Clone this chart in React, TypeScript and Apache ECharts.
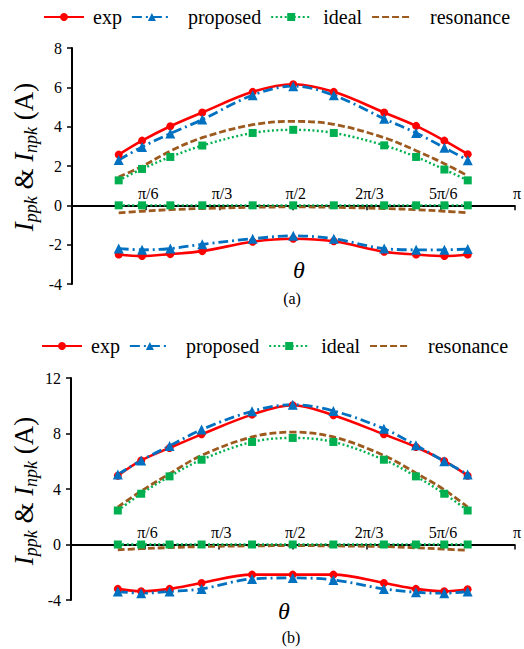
import { useEffect, useRef } from "react";
import * as echarts from "echarts";

// Sample angles (degrees) shared by both panels
const theta = [19, 28.5, 40, 53, 73.5, 90, 106.5, 127, 140, 151.5, 161];

// x-axis tick labels (degrees -> multiples of π)
const thetaTickLabels: Record<number, string> = {
  30: "π/6",
  60: "π/3",
  90: "π/2",
  120: "2π/3",
  150: "5π/6",
  180: "π",
};

const seriesNames = ["exp", "proposed", "ideal", "resonance"];

// Panel (a)
const expPosA = [2.58, 3.29, 4.02, 4.72, 5.77, 6.16, 5.77, 4.72, 4.04, 3.29, 2.6];
const expNegA = [-2.5, -2.58, -2.48, -2.33, -1.85, -1.7, -1.83, -2.36, -2.5, -2.58, -2.5];
const propPosA = [2.3, 2.97, 3.65, 4.36, 5.6, 6.06, 5.6, 4.4, 3.68, 2.93, 2.29];
const propNegA = [-2.2, -2.26, -2.2, -1.98, -1.7, -1.55, -1.7, -2.2, -2.26, -2.26, -2.22];
const idealPosA = [1.27, 1.85, 2.46, 3.04, 3.68, 3.84, 3.68, 3.05, 2.46, 1.82, 1.27];
const idealNegA = [0, 0, 0, 0, 0, 0, 0, 0, 0, 0, 0];
const resPosA = [1.44, 1.98, 2.76, 3.44, 4.1, 4.27, 4.12, 3.44, 2.78, 2.12, 1.5];
const resNegA = [-0.38, -0.3, -0.22, -0.16, -0.1, -0.08, -0.1, -0.16, -0.22, -0.3, -0.38];

// Panel (b)
const expPosB = [4.96, 6.06, 6.96, 7.94, 9.36, 10.04, 9.31, 7.94, 7.03, 6.02, 4.96];
const expNegB = [-3.2, -3.37, -3.2, -2.77, -2.17, -2.17, -2.17, -2.77, -3.2, -3.37, -3.22];
const propPosB = [5.05, 6.06, 7.1, 8.28, 9.6, 10.08, 9.63, 8.35, 7.15, 6.0, 5.05];
const propNegB = [-3.39, -3.51, -3.39, -3.2, -2.48, -2.41, -2.55, -3.2, -3.44, -3.51, -3.39];
const idealPosB = [2.45, 3.66, 4.91, 6.11, 7.39, 7.68, 7.39, 6.11, 4.91, 3.66, 2.45];
const idealNegB = [0, 0, 0, 0, 0, 0, 0, 0, 0, 0, 0];
const resPosB = [2.7, 3.85, 5.1, 6.42, 7.75, 8.1, 7.75, 6.42, 5.15, 3.95, 2.7];
const resNegB = [-0.38, -0.3, -0.22, -0.15, -0.1, -0.08, -0.1, -0.15, -0.24, -0.33, -0.42];

// y-axis ranges
const yRangeA = { min: -4, max: 8, interval: 2 };
const yRangeB = { min: -4, max: 12, interval: 4 };

const FONT = "Liberation Serif";

const gridA = { left: 72, top: 48, width: 451, height: 236 };
const gridB = { left: 71, top: 378, width: 446, height: 222 };

const styles: Record<string, any> = {
  exp: {
    color: "#FF0000",
    symbol: "circle",
    symbolSize: 8,
    lineStyle: { width: 2.6, type: "solid" },
  },
  proposed: {
    color: "#0070C0",
    symbol: "triangle",
    symbolSize: 10,
    lineStyle: { width: 2.8, type: [10, 4, 2, 4] },
  },
  ideal: {
    color: "#00B050",
    symbol: "rect",
    symbolSize: 8,
    lineStyle: { width: 2.4, type: [2, 2.5] },
  },
  resonance: {
    color: "#9C5A1E",
    symbol: "none",
    symbolSize: 0,
    lineStyle: { width: 2.8, type: [7, 3] },
  },
};

function makeSeries(name: string, values: number[], axisIndex: number) {
  const s = styles[name];
  return {
    name,
    type: "line",
    xAxisIndex: axisIndex,
    yAxisIndex: axisIndex,
    data: theta.map((t, i) => [t, values[i]]),
    smooth: 0.35,
    symbol: s.symbol,
    symbolSize: s.symbolSize,
    showSymbol: s.symbol !== "none",
    itemStyle: { color: s.color },
    lineStyle: { color: s.color, ...s.lineStyle },
    emphasis: { disabled: true },
  };
}

// The θ axis sits on the value-zero line of its grid
function makeXAxis(gridIndex: number, grid: { height: number }, range: { min: number; max: number }) {
  const zeroOffset = ((0 - range.min) / (range.max - range.min)) * grid.height;
  return {
    type: "value",
    gridIndex,
    position: "bottom",
    offset: -zeroOffset,
    min: 0,
    max: 180,
    interval: 30,
    axisLine: { show: true, onZero: false, lineStyle: { color: "#000", width: 2 } },
    axisTick: { show: true, inside: false, length: 5, lineStyle: { color: "#000", width: 1.5 } },
    axisLabel: {
      inside: true,
      margin: 4,
      fontFamily: FONT,
      fontSize: 16,
      color: "#000",
      padding: [0, 0, 0, 5],
      formatter: (v: number) => thetaTickLabels[v] ?? "",
    },
    splitLine: { show: false },
  };
}

function makeYAxis(gridIndex: number, range: { min: number; max: number; interval: number }) {
  return {
    type: "value",
    gridIndex,
    min: range.min,
    max: range.max,
    interval: range.interval,
    axisLine: { show: true, onZero: false, lineStyle: { color: "#000", width: 2 } },
    axisTick: { show: true, inside: false, length: 5, lineStyle: { color: "#000", width: 1.5 } },
    axisLabel: { margin: 10, fontFamily: FONT, fontSize: 16, color: "#000" },
    splitLine: { show: false },
  };
}

const legendTextPad: Record<string, number> = { exp: 4, proposed: 11, ideal: 7, resonance: 13 };

function makeLegend(top: number, left: number) {
  return {
    top,
    left,
    itemWidth: 40,
    itemHeight: 10,
    itemGap: 9,
    selectedMode: false,
    textStyle: { fontFamily: FONT, fontSize: 20, color: "#000" },
    data: seriesNames.map((n) => ({
      name: n,
      textStyle: { fontFamily: FONT, fontSize: 20, color: "#000", padding: [0, 0, 0, legendTextPad[n]] },
      // resonance has no markers, so its key is the dashed line alone
      ...(n === "resonance" ? { itemStyle: { opacity: 0 } } : {}),
    })),
  };
}

const yTitleRich = {
  i: { fontFamily: FONT, fontSize: 27, fontStyle: "italic", color: "#000", lineHeight: 32 },
  s: {
    fontFamily: FONT,
    fontSize: 18,
    fontStyle: "italic",
    color: "#000",
    lineHeight: 14,
    verticalAlign: "bottom",
  },
  n: { fontFamily: FONT, fontSize: 27, color: "#000", lineHeight: 32 },
};

function yTitle(x: number, y: number) {
  return {
    type: "text",
    x,
    y,
    rotation: Math.PI / 2,
    style: {
      text: "{i|I}{s|ppk}{n| & }{i|I}{s|npk}{n| (A)}",
      rich: yTitleRich,
      align: "center",
      verticalAlign: "middle",
    },
  };
}

function plainText(x: number, y: number, text: string, size: number, italic = false) {
  return {
    type: "text",
    x,
    y,
    style: {
      text,
      fontFamily: FONT,
      fontSize: size,
      fontStyle: italic ? "italic" : "normal",
      fill: "#000",
      align: "center",
      verticalAlign: "middle",
    },
  };
}

export default function App() {
  const ref = useRef<HTMLDivElement>(null);

  useEffect(() => {
    if (!ref.current) return;
    const chart = echarts.init(ref.current, null, { renderer: "svg" });

    const series = [
      makeSeries("resonance", resPosA, 0),
      makeSeries("resonance", resNegA, 0),
      makeSeries("ideal", idealPosA, 0),
      makeSeries("ideal", idealNegA, 0),
      makeSeries("exp", expPosA, 0),
      makeSeries("exp", expNegA, 0),
      makeSeries("proposed", propPosA, 0),
      makeSeries("proposed", propNegA, 0),
      makeSeries("resonance", resPosB, 1),
      makeSeries("resonance", resNegB, 1),
      makeSeries("ideal", idealPosB, 1),
      makeSeries("ideal", idealNegB, 1),
      makeSeries("exp", expPosB, 1),
      makeSeries("exp", expNegB, 1),
      makeSeries("proposed", propPosB, 1),
      makeSeries("proposed", propNegB, 1),
    ];

    chart.setOption({
      animation: false,
      backgroundColor: "#fff",
      legend: [makeLegend(2, 38), makeLegend(331, 36)],
      grid: [gridA, gridB],
      xAxis: [makeXAxis(0, gridA, yRangeA), makeXAxis(1, gridB, yRangeB)],
      yAxis: [makeYAxis(0, yRangeA), makeYAxis(1, yRangeB)],
      series,
      graphic: [
        yTitle(24, 157),
        yTitle(24, 491),
        plainText(299, 270, "θ", 24, true),
        plainText(292, 298, "(a)", 16),
        plainText(284, 611, "θ", 24, true),
        plainText(291, 637, "(b)", 16),
      ],
    });

    return () => chart.dispose();
  }, []);

  return (
    <div
      ref={ref}
      style={{ position: "absolute", left: 0, top: 0, width: 524, height: 649 }}
    />
  );
}
